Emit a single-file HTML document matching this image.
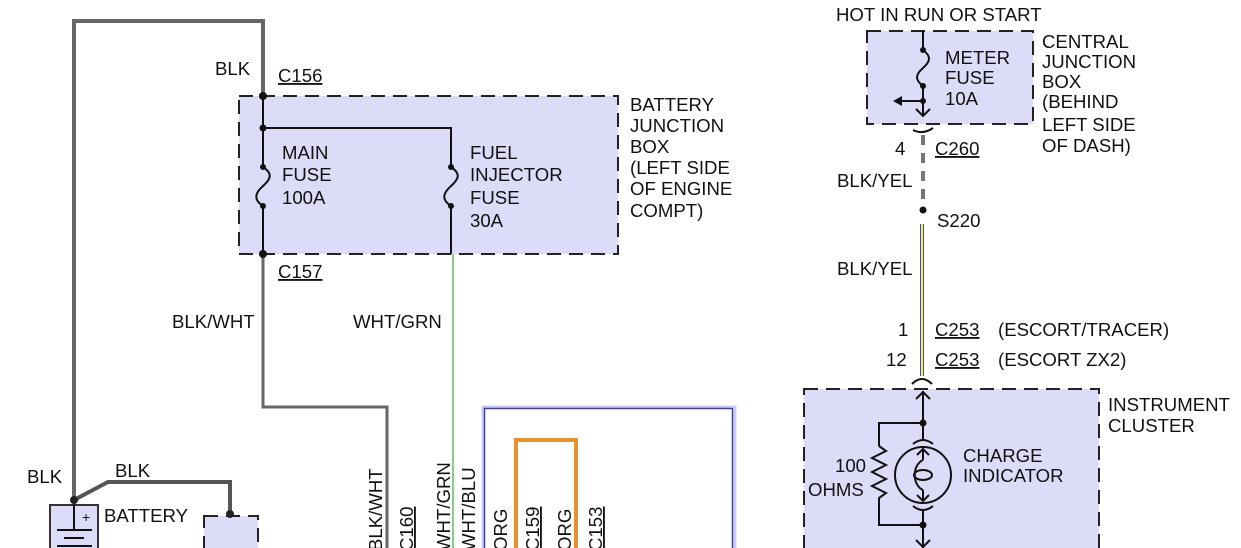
<!DOCTYPE html>
<html><head><meta charset="utf-8"><style>
html,body{margin:0;padding:0;background:#fff;}
svg{display:block;font-family:"Liberation Sans",Arial,sans-serif;}
text{font-size:18.6px;fill:#111;}
</style></head><body>
<svg width="1241" height="548" viewBox="0 0 1241 548" xmlns="http://www.w3.org/2000/svg">
<rect x="239" y="96" width="379" height="158" fill="#dcdcf9" stroke="#222" stroke-width="2" stroke-dasharray="14,8"/>
<polyline points="74,500 74,21 263,21 263,96" fill="none" stroke="#666" stroke-width="4"/>
<polyline points="263,254 263,407 387,407 387,548" fill="none" stroke="#666" stroke-width="3"/>
<line x1="453" y1="254" x2="453" y2="548" stroke="#8c8" stroke-width="2"/>
<g stroke="#111" stroke-width="2" fill="none">
<line x1="263" y1="96" x2="263" y2="167"/>
<line x1="263" y1="206" x2="263" y2="254"/>
<path d="M263,167 C272,173 272,178 263,186 C254,194 254,200 263,206"/>
<polyline points="263,128 451,128 451,167"/>
<line x1="451" y1="206" x2="451" y2="254"/>
<path d="M451,167 C460,173 460,178 451,186 C442,194 442,200 451,206"/>
</g>
<g fill="#111">
<circle cx="263" cy="96" r="4"/><circle cx="263" cy="128" r="3.5"/><circle cx="263" cy="254" r="4"/>
<circle cx="263" cy="167" r="3"/><circle cx="263" cy="206" r="3"/>
<circle cx="451" cy="167" r="3"/><circle cx="451" cy="206" r="3"/>
</g>
<text x="215" y="75">BLK</text>
<text x="278" y="82" text-decoration="underline">C156</text>
<text x="278" y="278" text-decoration="underline">C157</text>
<text x="282" y="159">MAIN</text><text x="282" y="181">FUSE</text><text x="282" y="204">100A</text>
<text x="470" y="159">FUEL</text><text x="470" y="181">INJECTOR</text><text x="470" y="204">FUSE</text><text x="470" y="227">30A</text>
<text x="630" y="111">BATTERY</text><text x="630" y="132">JUNCTION</text><text x="630" y="153">BOX</text><text x="630" y="174">(LEFT SIDE</text><text x="630" y="195">OF ENGINE</text><text x="630" y="217">COMPT)</text>
<text x="172" y="328">BLK/WHT</text>
<text x="353" y="328">WHT/GRN</text>
<rect x="483" y="407" width="252" height="150" fill="none" stroke="#ccf" stroke-width="3"/>
<rect x="484.5" y="408.5" width="248" height="150" fill="none" stroke="#448" stroke-width="1.5"/>
<polyline points="516,548 516,440 576,440 576,548" fill="none" stroke="#e8922c" stroke-width="4"/>
<g>
<text transform="translate(382,551) rotate(-90)">BLK/WHT</text>
<text transform="translate(413,551) rotate(-90)" text-decoration="underline">C160</text>
<text transform="translate(450,551) rotate(-90)">WHT/GRN</text>
<text transform="translate(475,551) rotate(-90)">WHT/BLU</text>
<text transform="translate(507,551) rotate(-90)">ORG</text>
<text transform="translate(539,551) rotate(-90)" text-decoration="underline">C159</text>
<text transform="translate(571,551) rotate(-90)">ORG</text>
<text transform="translate(602,551) rotate(-90)" text-decoration="underline">C153</text>
</g>
<rect x="50" y="505" width="48" height="50" fill="#dcdcf9" stroke="#333" stroke-width="2"/>
<line x1="74" y1="500" x2="74" y2="530" stroke="#111" stroke-width="2"/>
<line x1="57" y1="530" x2="92" y2="530" stroke="#111" stroke-width="2"/>
<line x1="64" y1="538" x2="84" y2="538" stroke="#111" stroke-width="2"/>
<line x1="57" y1="546" x2="92" y2="546" stroke="#111" stroke-width="2"/>
<text x="82" y="522" style="font-size:14px">+</text>
<polyline points="74,500 108,482 230,482 230,514" fill="none" stroke="#555" stroke-width="4"/>
<circle cx="74" cy="500" r="4" fill="#222"/>
<rect x="204" y="516" width="54" height="40" fill="#dcdcf9" stroke="#222" stroke-width="2" stroke-dasharray="14,8"/>
<circle cx="230" cy="514" r="4" fill="#222"/>
<text x="27" y="483">BLK</text>
<text x="115" y="477">BLK</text>
<text x="104" y="522">BATTERY</text>
<rect x="867" y="31" width="166" height="93" fill="#dcdcf9" stroke="#222" stroke-width="2" stroke-dasharray="14,8"/>
<g stroke="#111" stroke-width="2" fill="none">
<line x1="923" y1="31" x2="923" y2="50"/>
<path d="M923,50 C931,56 931,61 923,68 C915,75 915,80 923,86"/>
<line x1="923" y1="86" x2="923" y2="115"/>
<line x1="923" y1="101" x2="900" y2="101"/>
<polyline points="916,109 923,116 930,109"/>
<path d="M913,130 Q923,135 933,128"/>
</g>
<polygon points="893,101 902,96 902,106" fill="#111"/>
<g fill="#111"><circle cx="923" cy="50" r="3"/><circle cx="923" cy="86" r="3"/><circle cx="923" cy="101" r="3"/></g>
<line x1="923" y1="135" x2="923" y2="200" stroke="#777" stroke-width="4" stroke-dasharray="10,8"/>
<circle cx="923" cy="210" r="3.5" fill="#111"/>
<line x1="922" y1="224" x2="922" y2="376" stroke="#555" stroke-width="4"/>
<line x1="922" y1="224" x2="922" y2="376" stroke="#e8e8a0" stroke-width="2"/>
<path d="M912,384 Q922,374 932,384" stroke="#111" stroke-width="2" fill="none"/>
<text x="836" y="21">HOT IN RUN OR START</text>
<text x="945" y="64">METER</text><text x="945" y="84">FUSE</text><text x="945" y="105">10A</text>
<text x="1042" y="48">CENTRAL</text><text x="1042" y="68">JUNCTION</text><text x="1042" y="88">BOX</text><text x="1042" y="108">(BEHIND</text><text x="1042" y="131">LEFT SIDE</text><text x="1042" y="152">OF DASH)</text>
<text x="895" y="155">4</text>
<text x="935" y="155" text-decoration="underline">C260</text>
<text x="837" y="187">BLK/YEL</text>
<text x="937" y="227">S220</text>
<text x="837" y="275">BLK/YEL</text>
<text x="898" y="336">1</text>
<text x="935" y="336" text-decoration="underline">C253</text>
<text x="998" y="336">(ESCORT/TRACER)</text>
<text x="886" y="366">12</text>
<text x="935" y="366" text-decoration="underline">C253</text>
<text x="998" y="366">(ESCORT ZX2)</text>
<rect x="804" y="389" width="295" height="170" fill="#dcdcf9" stroke="#222" stroke-width="2" stroke-dasharray="14,8"/>
<g stroke="#111" stroke-width="2" fill="none">
<line x1="923" y1="391" x2="923" y2="440"/>
<polyline points="916,399 923,392 930,399"/>
<polyline points="923,423 879,423 879,446"/>
<polyline points="879,446 886,451 872,458 886,465 872,472 886,479 872,486 886,493 879,498 879,525 923,525"/>
<path d="M913,444 Q923,436 933,444"/>
<circle cx="923" cy="475" r="28"/>
<polyline points="917,455 923,449 929,455"/>
<line x1="923" y1="449" x2="923" y2="460"/>
<line x1="923" y1="490" x2="923" y2="501"/>
<path d="M923,460 C912,465 912,485 923,490"/>
<ellipse cx="923" cy="475" rx="9" ry="5"/>
<polyline points="917,495 923,501 929,495"/>
<path d="M913,506 Q923,514 933,506"/>
<line x1="923" y1="510" x2="923" y2="548"/>
<polyline points="916,540 923,547 930,540"/>
</g>
<g fill="#111"><circle cx="923" cy="423" r="3.5"/><circle cx="923" cy="525" r="3.5"/></g>
<text x="835" y="472">100</text><text x="808" y="496">OHMS</text>
<text x="963" y="462">CHARGE</text><text x="963" y="482">INDICATOR</text>
<text x="1108" y="411">INSTRUMENT</text><text x="1108" y="432">CLUSTER</text>
</svg>
</body></html>
